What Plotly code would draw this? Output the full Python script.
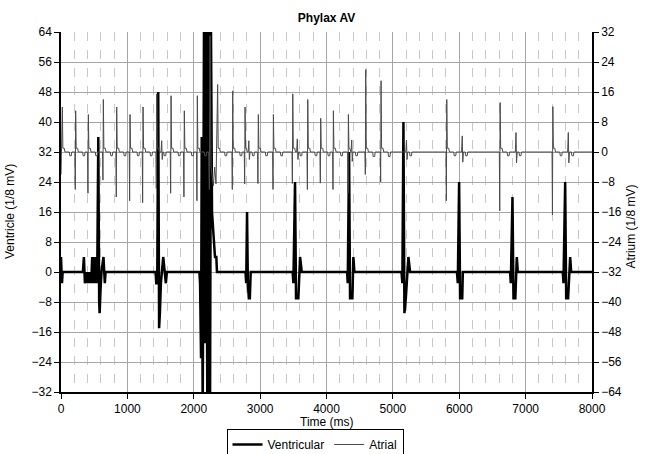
import plotly.graph_objects as go

# Ventricular channel (1/8 mV), vertices
vent_t = [0, 15, 25,
          330, 345, 360, 380, 395, 410, 425, 440, 455, 470, 480, 495, 505, 520, 535, 548,
          562, 575, 582, 595, 610, 640, 660, 672,
          1425, 1435, 1450, 1465, 1478, 1490, 1505, 1540, 1580, 1595,
          2085, 2095, 2110, 2120, 2135, 2155, 2170, 2185, 2205, 2225, 2245, 2260, 2275,
          2320, 2340, 2350,
          2780, 2790, 2803, 2815, 2830, 2845, 2858,
          3490, 3501, 3526, 3541, 3576, 3602, 3627,
          4310, 4320, 4340, 4355, 4390, 4405, 4420,
          5130, 5143, 5159, 5174, 5195, 5234, 5259,
          5965, 5978, 5998, 6013, 6045, 6054,
          6765, 6777, 6802, 6817, 6845, 6867, 6882,
          7560, 7570, 7596, 7611, 7640, 7671, 7686, 8000]
vent_v = [4, -3, 0,
          0, 4, -3, 0, -3, 0, -3, 0, -3, 4, -3, 4, -3, 4, -3, 4,
          36, -8, -11, -5, 0, 4, -3, 0,
          0, -3, -3, 48, -15, -11, -3, 4, -3, 0,
          0, -3, -23, 36, -40, 70, -19, 70, -40, 70, -40, 64, 16,
          4, 4, 0,
          0, -3, 16, -3, -7, -7, 0,
          0, -3, 24, -7, -7, 4, 0,
          0, -3, 32, -7, -7, 4, 0,
          0, -3, 40, -11, -7, 4, 0,
          0, -3, 24, -7, -7, 0,
          0, -3, 20, -7, -7, 4, 0,
          0, -3, 24, -7, -7, 4, 0, 0]

# Atrial channel (1/8 mV), vertices
atr_t = [0, 20, 28, 50, 60, 125, 132, 155, 162,
         209, 215, 221, 229, 251, 261, 326, 333, 356, 363,
         400, 406, 412, 420, 442, 452, 517, 524, 547, 554,
         626, 632, 638, 646, 668, 678, 743, 750, 773, 780,
         827, 833, 839, 847, 869, 879, 944, 951, 974, 981,
         1028, 1034, 1040, 1048, 1070, 1080, 1145, 1152, 1175, 1182,
         1224, 1230, 1236, 1244, 1266, 1276, 1341, 1348, 1371, 1378,
         1430, 1436, 1442, 1450, 1472, 1482, 1507, 1517, 1525, 1535, 1547, 1554, 1577, 1584,
         1646, 1652, 1658, 1666, 1688, 1698, 1763, 1770, 1793, 1800,
         1846, 1852, 1858, 1866, 1888, 1898, 1963, 1970, 1993, 2000,
         2042, 2048, 2054, 2062, 2084, 2094, 2159, 2166, 2189, 2196,
         2225, 2235, 2245, 2260, 2295, 2315, 2335, 2360, 2368, 2390, 2400, 2465, 2472, 2495, 2502,
         2575, 2581, 2587, 2595, 2617, 2627, 2692, 2699, 2722, 2729,
         2761, 2767, 2773, 2781, 2795, 2805, 2820, 2830, 2838, 2848, 2878, 2885, 2908, 2915,
         2961, 2967, 2973, 2981, 3003, 3013, 3078, 3085, 3108, 3115,
         3188, 3194, 3200, 3208, 3230, 3240, 3305, 3312, 3335, 3342,
         3480, 3486, 3492, 3500, 3522, 3532, 3550, 3560, 3570, 3580, 3597, 3604, 3627, 3634,
         3706, 3712, 3718, 3726, 3748, 3758, 3823, 3830, 3853, 3860,
         3901, 3907, 3913, 3921, 3943, 3953, 4018, 4025, 4048, 4055,
         4092, 4098, 4104, 4112, 4134, 4144, 4209, 4216, 4239, 4246,
         4318, 4324, 4330, 4338, 4350, 4360, 4370, 4380, 4388, 4398, 4435, 4442, 4465, 4472,
         4579, 4585, 4591, 4599, 4621, 4631, 4696, 4703, 4726, 4733,
         4810, 4816, 4822, 4830, 4852, 4862, 4927, 4934, 4957, 4964,
         5195, 5205, 5213, 5223, 5250, 5257, 5280, 5287,
         5800, 5806, 5812, 5820, 5842, 5852, 5917, 5924, 5947, 5954,
         6035, 6045, 6053, 6063, 6090, 6097, 6120, 6127,
         6604, 6610, 6616, 6624, 6646, 6656, 6721, 6728, 6751, 6758,
         6845, 6855, 6863, 6873, 6900, 6907, 6930, 6937,
         7398, 7404, 7410, 7418, 7440, 7450, 7515, 7522, 7545, 7552,
         7633, 7643, 7651, 7661, 7690, 7697, 7720, 7727, 8000]
atr_v = [-6, 12, 1, 1, 0, 0, -1, -1, 0,
         0, -10, 11, 1, 1, 0, 0, -1, -1, 0,
         0, -11, 10, 1, 1, 0, 0, -1, -1, 0,
         0, -7.5, 14, 1, 1, 0, 0, -1, -1, 0,
         0, -12, 12, 1, 1, 0, 0, -1, -1, 0,
         0, -13, 10, 1, 1, 0, 0, -1, -1, 0,
         0, -13.5, 12, 1, 1, 0, 0, -1, -1, 0,
         0, -9.7, 15.5, 1, 1, 0, 0, 3, -2, 0, 0, -1, -1, 0,
         0, -11, 15, 1, 1, 0, 0, -1, -1, 0,
         0, -12, 11, 1, 1, 0, 0, -1, -1, 0,
         0, -13, 15, 1, 1, 0, 0, -1, -1, 0,
         0, -10, 31, -4, -9, -4, -8.5, 18, 1, 1, 0, 0, -1, -1, 0,
         0, -10, 16.3, 1, 1, 0, 0, -1, -1, 0,
         0, -8.5, 12, 1, 1, 0, 0, 3, -2, 0, 0, -1, -1, 0,
         0, -8.4, 10, 1, 1, 0, 0, -1, -1, 0,
         0, -10, 10, 1, 1, 0, 0, -1, -1, 0,
         0, -8.4, 15.5, 1, 1, 0, 0, 3.5, -2, 0, 0, -1, -1, 0,
         0, -10, 14, 1, 1, 0, 0, -1, -1, 0,
         0, -8.3, 9, 1, 1, 0, 0, -1, -1, 0,
         0, -10, 11, 1, 1, 0, 0, -1, -1, 0,
         0, -11, 10, 1, 1, 0, 0, 3.2, -2.5, 0, 0, -1, -1, 0,
         0, -6, 22, 1, 1, 0, 0, -1.2, -1.2, 0,
         0, -8, 19, 1, 1, 0, 0, -1.2, -1.2, 0,
         0, 3.2, -2, 0, 0, -1, -1, 0,
         0, -13, 14, 1, 1, 0, 0, -1, -1, 0,
         0, 4.3, -2.7, 0, 0, -1, -1, 0,
         0, -15.7, 13.2, 1, 1, 0, 0, -1, -1, 0,
         0, 5.2, -2.9, 0, 0, -1, -1, 0,
         0, -16.8, 12.1, 1, 1, 0, 0, -1, -1, 0,
         0, 5.2, -2.9, 0, 0, -1, -1, 0, 0]

vent_ticks = list(range(-32, 65, 8))
atr_ticks = list(range(-64, 33, 8))

FONT = 'Liberation Sans, Arial, sans-serif'
W, H = 647, 454
L, R, T, B = 61, 55, 32, 62
PLOT_W, PLOT_H = W - L - R, H - T - B

fig = go.Figure()
fig.add_trace(go.Scatter(x=vent_t, y=vent_v, mode='lines', name='Ventricular',
                         line=dict(color='black', width=2.5)))
fig.add_trace(go.Scatter(x=atr_t, y=atr_v, mode='lines', name='Atrial', yaxis='y2',
                         line=dict(color='#4a4a4a', width=1)))

fig.update_layout(
    width=W, height=H,
    margin=dict(l=L, r=R, t=T, b=B, autoexpand=False),
    paper_bgcolor='white', plot_bgcolor='white',
    font=dict(family=FONT, size=12, color='black'),
    title=dict(text='<b>Phylax AV</b>', x=0.5, xref='paper', y=1 - 18 / H, yanchor='middle',
               font=dict(size=12)),
    xaxis=dict(range=[0, 8000], tickvals=list(range(0, 8001, 1000)),
               showgrid=True, gridcolor='#a6a6a6', gridwidth=1,
               minor=dict(dtick=200, showgrid=True, gridcolor='#c8c8c8', griddash='dash',
                          ticklen=0),
               showline=True, linecolor='black', linewidth=1.5,
               ticks='outside', ticklen=5, tickcolor='black', zeroline=False),
    yaxis=dict(range=[-32, 64], tickvals=vent_ticks, showgrid=True, gridcolor='#a6a6a6',
               showline=True, linecolor='black', linewidth=1.5,
               ticks='outside', ticklen=5, tickcolor='black', zeroline=False),
    yaxis2=dict(range=[-64, 32], tickvals=atr_ticks, overlaying='y', side='right',
                showgrid=False, showline=True, linecolor='black', linewidth=1.5,
                ticks='outside', ticklen=5, tickcolor='black', zeroline=False),
    legend=dict(orientation='h', x=(315 - L) / PLOT_W, xanchor='center',
                y=-(429 - (T + PLOT_H)) / PLOT_H, yanchor='top',
                bordercolor='black', borderwidth=1, bgcolor='white',
                font=dict(size=12), itemwidth=30, tracegroupgap=0),
)
fig.add_annotation(text='Time (ms)', x=0.5, xref='paper', y=-0.083, yref='paper',
                   yanchor='middle', showarrow=False, font=dict(size=12))
fig.add_annotation(text='Ventricle (1/8 mV)', x=(10 - L) / PLOT_W, xref='paper',
                   xanchor='center', y=0.5, yref='paper', textangle=-90, showarrow=False,
                   font=dict(size=12))
fig.add_annotation(text='Atrium (1/8 mV)', x=(631 - L) / PLOT_W, xref='paper',
                   xanchor='center', y=0.46, yref='paper', textangle=-90, showarrow=False,
                   font=dict(size=12))

# drop the default 8px body margin so the figure sits at the window's corner
fig.write_html('out.html', config={'displayModeBar': False},
               post_script="document.body.style.margin='0';")
